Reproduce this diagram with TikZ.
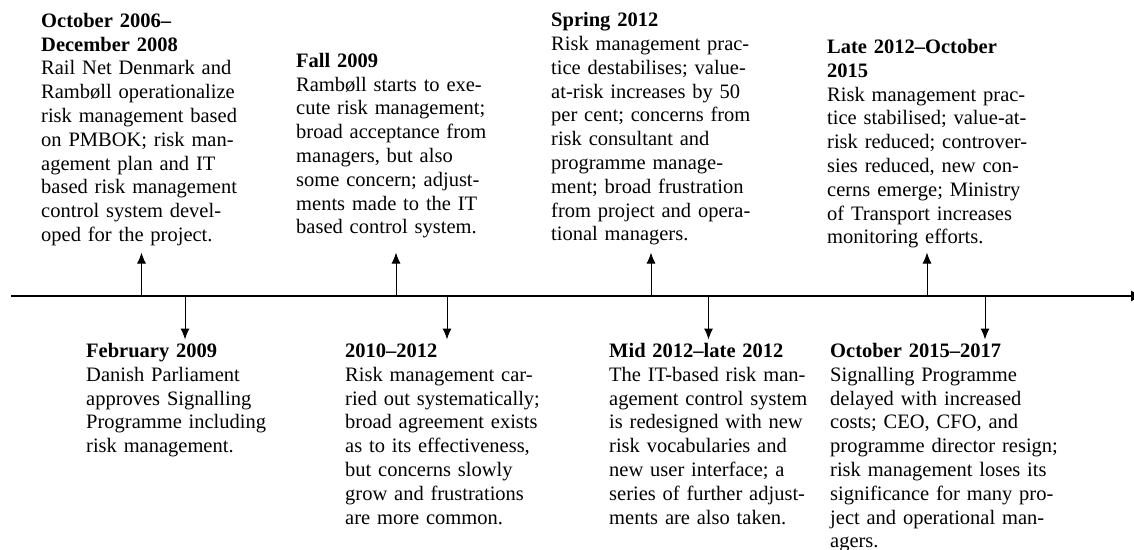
\documentclass[tikz,border=0pt]{standalone}
\usepackage{fontspec}
\setmainfont{Liberation Serif}
\usetikzlibrary{arrows.meta}
\begin{document}
\begin{tikzpicture}[x=1pt,y=-1pt,
  txt/.style={anchor=base west, inner sep=0pt, text width=240pt, align=left,
              font=\fontsize{20.5}{23.8}\selectfont},
  evarrow/.style={line width=1pt, -{Latex[length=11pt,width=9pt]}},
  axisline/.style={line width=1.4pt, -{Latex[length=12pt,width=11pt]}}]
\useasboundingbox (0,0) rectangle (1134,549);

% axis
\coordinate (axL) at (11,296);
\coordinate (axR) at (1143,296);
\draw[axisline] (axL) -- (axR);

% text blocks above
\node[txt] (t1) at (41,27.3) {\textbf{October 2006–}\\\textbf{December 2008}\\Rail Net Denmark and\\Rambøll operationalize\\risk management based\\on PMBOK; risk man-\\agement plan and IT\\based risk management\\control system devel-\\oped for the project.};
\node[txt] (t2) at (296,67.3) {\textbf{Fall 2009}\\Rambøll starts to exe-\\cute risk management;\\broad acceptance from\\managers, but also\\some concern; adjust-\\ments made to the IT\\based control system.};
\node[txt] (t3) at (551,26.7) {\textbf{Spring 2012}\\Risk management prac-\\tice destabilises; value-\\at-risk increases by 50\\per cent; concerns from\\risk consultant and\\programme manage-\\ment; broad frustration\\from project and opera-\\tional managers.};
\node[txt] (t4) at (827,53.5) {\textbf{Late 2012–October}\\\textbf{2015}\\Risk management prac-\\tice stabilised; value-at-\\risk reduced; controver-\\sies reduced, new con-\\cerns emerge; Ministry\\of Transport increases\\monitoring efforts.};

% text blocks below
\node[txt] (b1) at (86,357.5) {\textbf{February 2009}\\Danish Parliament\\approves Signalling\\Programme including\\risk management.};
\node[txt] (b2) at (345,357.5) {\textbf{2010–2012}\\Risk management car-\\ried out systematically;\\broad agreement exists\\as to its effectiveness,\\but concerns slowly\\grow and frustrations\\are more common.};
\node[txt] (b3) at (609,357.5) {\textbf{Mid 2012–late 2012}\\The IT-based risk man-\\agement control system\\is redesigned with new\\risk vocabularies and\\new user interface; a\\series of further adjust-\\ments are also taken.};
\node[txt] (b4) at (830,357.5) {\textbf{October 2015–2017}\\Signalling Programme\\delayed with increased\\costs; CEO, CFO, and\\programme director resign;\\risk management loses its\\significance for many pro-\\ject and operational man-\\agers.};

% arrow anchors on the axis and free ends
\foreach \n/\x in {u1/141.5,u2/396,u3/651,u4/927}{
  \coordinate (\n a) at (\x,296);
  \coordinate (\n e) at (\x,252.5);
}
\foreach \n/\x in {d1/185,d2/447,d3/708.5,d4/985}{
  \coordinate (\n a) at (\x,296);
  \coordinate (\n e) at (\x,339.5);
}
\foreach \n in {u1,u2,u3,u4,d1,d2,d3,d4}{
  \draw[evarrow] (\n a) -- (\n e);
}
\end{tikzpicture}
\end{document}
